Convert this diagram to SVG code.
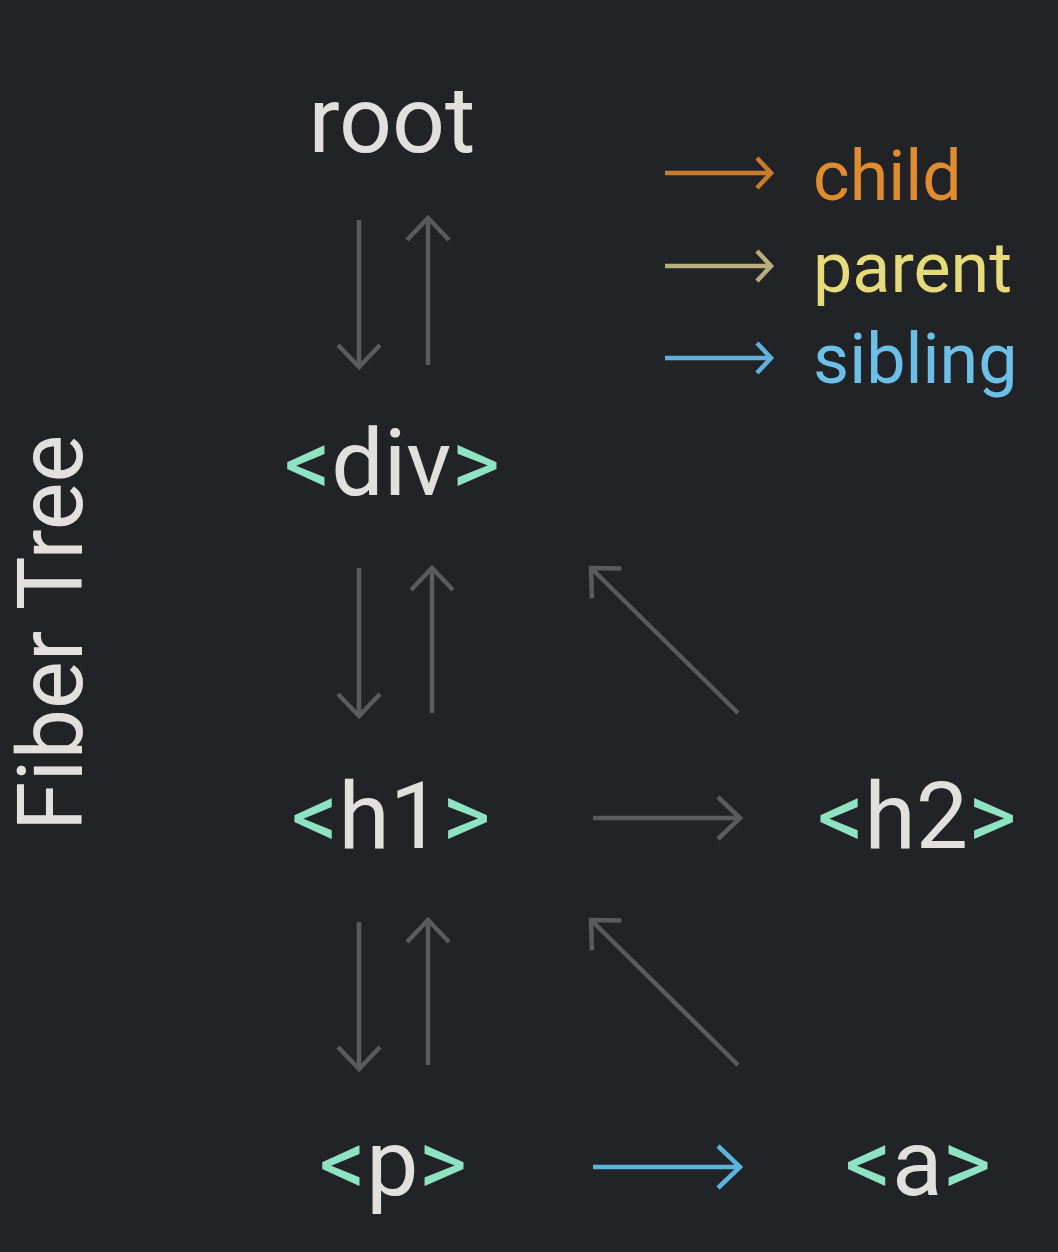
<svg xmlns="http://www.w3.org/2000/svg" width="1058" height="1252" viewBox="0 0 1058 1252">
<defs>
<style>
.node{font-family:Roboto,"Liberation Sans",sans-serif;font-size:93px;fill:#e2e0dc;text-anchor:middle}
.br{fill:#8fe3c5}
.leg{font-family:Roboto,"Liberation Sans",sans-serif;font-size:70px}
.title{font-family:Roboto,"Liberation Sans",sans-serif;font-size:90px;fill:#e2e0dc;text-anchor:middle}
.g{stroke:#5a5b5d;stroke-width:4.5;fill:none}
.b{stroke:#5ab4e0;stroke-width:4.5;fill:none}
</style>
<marker id="mg" markerUnits="userSpaceOnUse" markerWidth="50" markerHeight="50" refX="25" refY="25" orient="auto" overflow="visible">
<path d="M3 4 L25 25 L3 46" fill="none" stroke="#5a5b5d" stroke-width="4.5"/>
</marker>
<marker id="mb" markerUnits="userSpaceOnUse" markerWidth="50" markerHeight="50" refX="25" refY="25" orient="auto" overflow="visible">
<path d="M3 4 L25 25 L3 46" fill="none" stroke="#5ab4e0" stroke-width="4.5"/>
</marker>
<marker id="lo" markerUnits="userSpaceOnUse" markerWidth="40" markerHeight="40" refX="20" refY="20" orient="auto" overflow="visible">
<path d="M6 5 L20 20 L6 35" fill="none" stroke="#c97c2c" stroke-width="4.5"/>
</marker>
<marker id="ly" markerUnits="userSpaceOnUse" markerWidth="40" markerHeight="40" refX="20" refY="20" orient="auto" overflow="visible">
<path d="M6 5 L20 20 L6 35" fill="none" stroke="#b8b07c" stroke-width="4.5"/>
</marker>
<marker id="ls" markerUnits="userSpaceOnUse" markerWidth="40" markerHeight="40" refX="20" refY="20" orient="auto" overflow="visible">
<path d="M6 5 L20 20 L6 35" fill="none" stroke="#5fb2dc" stroke-width="4.5"/>
</marker>
</defs>
<rect width="1058" height="1252" fill="#222327"/>

<g id="title">
<text class="title" transform="translate(82,633) rotate(-90)">Fiber Tree</text>
</g>

<g id="legend">
<line x1="665" y1="173" x2="771" y2="173" stroke="#c97c2c" stroke-width="4.5" marker-end="url(#lo)"/>
<text class="leg" x="813" y="200" fill="#e08b2d">child</text>
<line x1="665" y1="266" x2="771" y2="266" stroke="#b8b07c" stroke-width="4.5" marker-end="url(#ly)"/>
<text class="leg" x="813" y="292" fill="#e5db7b">parent</text>
<line x1="665" y1="358" x2="771" y2="358" stroke="#5fb2dc" stroke-width="4.5" marker-end="url(#ls)"/>
<text class="leg" x="813" y="383" fill="#6cc0e8">sibling</text>
</g>

<g id="node-root"><text class="node" x="392" y="152">root</text></g>
<g id="node-div"><text class="node" x="392" y="495"><tspan class="br">&lt;</tspan>div<tspan class="br">&gt;</tspan></text></g>
<g id="node-h1"><text class="node" x="391" y="848"><tspan class="br">&lt;</tspan>h1<tspan class="br">&gt;</tspan></text></g>
<g id="node-h2"><text class="node" x="917" y="848"><tspan class="br">&lt;</tspan>h2<tspan class="br">&gt;</tspan></text></g>
<g id="node-p"><text class="node" x="393" y="1195"><tspan class="br">&lt;</tspan>p<tspan class="br">&gt;</tspan></text></g>
<g id="node-a"><text class="node" x="918" y="1195"><tspan class="br">&lt;</tspan>a<tspan class="br">&gt;</tspan></text></g>

<g id="connectors">
<line class="g" x1="359" y1="220" x2="359" y2="367" marker-end="url(#mg)"/>
<line class="g" x1="428" y1="365" x2="428" y2="218" marker-end="url(#mg)"/>
<line class="g" x1="359" y1="568" x2="359" y2="716" marker-end="url(#mg)"/>
<line class="g" x1="432" y1="713" x2="432" y2="568" marker-end="url(#mg)"/>
<line class="g" x1="738" y1="713" x2="591" y2="568" marker-end="url(#mg)"/>
<line class="g" x1="593" y1="818" x2="740" y2="818" marker-end="url(#mg)"/>
<line class="g" x1="359" y1="922" x2="359" y2="1069" marker-end="url(#mg)"/>
<line class="g" x1="428" y1="1065" x2="428" y2="920" marker-end="url(#mg)"/>
<line class="g" x1="738" y1="1065" x2="591" y2="920" marker-end="url(#mg)"/>
<line class="b" x1="593" y1="1167" x2="740" y2="1167" marker-end="url(#mb)"/>
</g>
</svg>
